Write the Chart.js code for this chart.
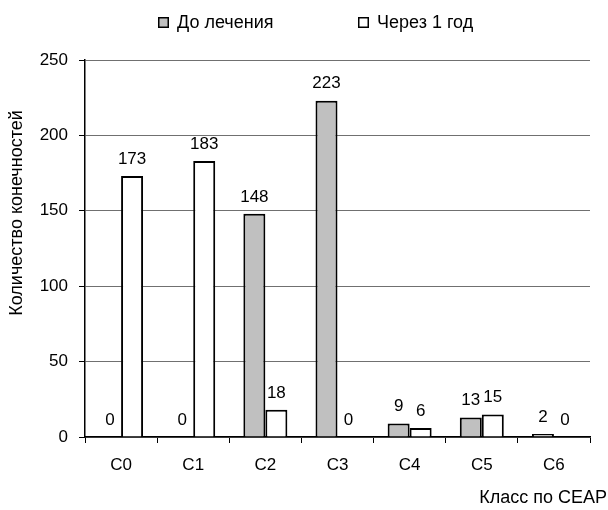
<!DOCTYPE html>
<html>
<head>
<meta charset="utf-8">
<script src="https://cdn.jsdelivr.net/npm/chart.js@4/dist/chart.umd.min.js"></script>
<style>
  html, body { margin: 0; padding: 0; background: #ffffff; }
  #wrap { width: 608px; height: 510px; }
</style>
</head>
<body>
<div id="wrap"><canvas id="chart" width="608" height="510"></canvas></div>
<script>
const categories = ['C0', 'C1', 'C2', 'C3', 'C4', 'C5', 'C6'];
const seriesNames = ['До лечения', 'Через 1 год'];
const beforeValues = [0, 0, 148, 223, 9, 13, 2];
const afterValues = [173, 183, 18, 0, 6, 15, 0];
const yTickValues = [0, 50, 100, 150, 200, 250];
const yTitle = 'Количество конечностей';
const xTitle = 'Класс по CEAP';

const FONT = '"Liberation Sans", Arial, sans-serif';
const FONT_SIZE = 17;
const TEXT_SIZE = 18;

// Value labels, legend and axis titles drawn on the canvas
const decorations = {
  id: 'decorations',
  afterDatasetsDraw(chart) {
    const ctx = chart.ctx;
    ctx.save();
    ctx.font = FONT_SIZE + 'px ' + FONT;
    ctx.fillStyle = '#000';
    ctx.textAlign = 'center';
    ctx.textBaseline = 'middle';
    chart.data.datasets.forEach((ds, i) => {
      const meta = chart.getDatasetMeta(i);
      meta.data.forEach((bar, j) => {
        ctx.fillText(String(ds.data[j]), bar.x, bar.y - 17);
      });
    });
    ctx.restore();
  },
  afterDraw(chart) {
    const ctx = chart.ctx;
    ctx.save();
    ctx.font = TEXT_SIZE + 'px ' + FONT;
    ctx.fillStyle = '#000';
    ctx.textBaseline = 'middle';

    // legend
    const legendX = [158, 358];
    chart.data.datasets.forEach((ds, i) => {
      const x = legendX[i];
      ctx.fillStyle = ds.backgroundColor;
      ctx.fillRect(x, 17, 11, 11);
      ctx.strokeStyle = '#000';
      ctx.lineWidth = 1.5;
      ctx.strokeRect(x + 0.75, 17.75, 9.5, 9.5);
      ctx.fillStyle = '#000';
      ctx.textAlign = 'left';
      ctx.fillText(ds.label, x + 19, 23);
    });

    // y axis title
    ctx.save();
    ctx.translate(17, 213);
    ctx.rotate(-Math.PI / 2);
    ctx.textAlign = 'center';
    ctx.fillText(yTitle, 0, 0);
    ctx.restore();

    // x axis title
    ctx.textAlign = 'right';
    ctx.fillText(xTitle, 607, 498);
    ctx.restore();
  }
};

new Chart(document.getElementById('chart'), {
  type: 'bar',
  data: {
    labels: categories,
    datasets: [
      {
        label: seriesNames[0],
        data: beforeValues,
        backgroundColor: '#c0c0c0',
        borderColor: '#000000',
        borderWidth: 2,
        borderSkipped: 'start'
      },
      {
        label: seriesNames[1],
        data: afterValues,
        backgroundColor: '#ffffff',
        borderColor: '#000000',
        borderWidth: 2,
        borderSkipped: 'start'
      }
    ]
  },
  options: {
    responsive: false,
    animation: false,
    devicePixelRatio: 1,
    layout: { padding: { left: 0, right: 18, top: 60, bottom: 0 } },
    datasets: {
      bar: { barPercentage: 1.0, categoryPercentage: 0.61 }
    },
    plugins: {
      legend: { display: false },
      tooltip: { enabled: false },
      title: { display: false }
    },
    scales: {
      x: {
        afterFit(scale) { scale.height = 73; },
        grid: {
          display: true,
          drawOnChartArea: false,
          drawTicks: true,
          tickLength: 6,
          tickColor: '#000000',
          offset: true
        },
        border: { display: true, color: '#000000', width: 1.5 },
        ticks: {
          color: '#000000',
          font: { family: FONT, size: FONT_SIZE },
          padding: 12,
          maxRotation: 0
        }
      },
      y: {
        min: 0,
        max: 250,
        afterFit(scale) { scale.width = 85; },
        afterBuildTicks(scale) {
          scale.ticks = yTickValues.map(v => ({ value: v }));
        },
        grid: {
          color: '#707070',
          lineWidth: 1,
          drawTicks: true,
          tickLength: 6,
          tickColor: '#000000'
        },
        border: { display: true, color: '#000000', width: 1.5 },
        ticks: {
          color: '#000000',
          font: { family: FONT, size: FONT_SIZE },
          padding: 11
        }
      }
    }
  },
  plugins: [decorations]
});
</script>
</body>
</html>
